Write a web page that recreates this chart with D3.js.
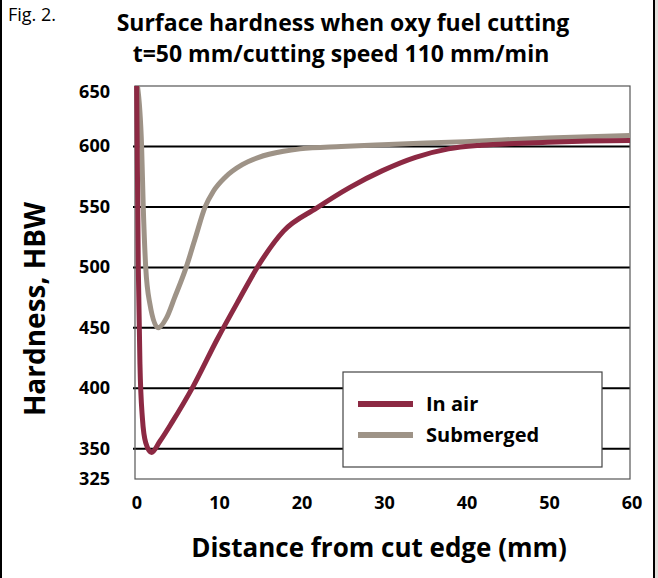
<!DOCTYPE html>
<html>
<head>
<meta charset="utf-8">
<script src="https://cdn.jsdelivr.net/npm/d3@7"></script>
<style>
  html, body { margin: 0; padding: 0; background: #fff; }
  svg { display: block; font-family: "Open Sans", "Noto Sans", sans-serif; }
</style>
</head>
<body>
<div id="chart"></div>
<script>
// Data
const airX = [0.2, 0.4, 0.6, 0.9, 1.3, 2.0, 3, 4.5, 7, 10, 12.5, 15, 18, 22, 26, 30, 34, 38, 42, 46, 50, 55, 60];
const airY = [650, 500, 420, 375, 355, 347, 356, 372, 401, 441, 472, 502, 530, 549, 566, 580, 591, 598, 601, 602.5, 603.5, 604.5, 605];
const subX = [0.3, 0.8, 1.0, 1.3, 1.8, 2.8, 3.8, 4.8, 6.2, 7.3, 8.5, 9.5, 11, 13, 15, 18, 20, 25, 30, 40, 50, 60];
const subY = [650, 600, 550, 500, 470, 450, 458, 475, 500, 524, 550, 563, 575, 585, 591, 596, 598, 600, 601.5, 604, 607, 609];
const xTicks = [0, 10, 20, 30, 40, 50, 60];
const yTicks = [325, 350, 400, 450, 500, 550, 600, 650];
const seriesNames = ["In air", "Submerged"];
const seriesColors = ["#8c2943", "#9e9387"];

const width = 658, height = 578;
const plotLeft = 135, plotRight = 630, plotTop = 86, plotBottom = 479;

const svg = d3.select("#chart").append("svg")
    .attr("width", width)
    .attr("height", height);

// frame on the left and right
svg.append("rect").attr("x", 0).attr("y", 0).attr("width", 2).attr("height", height).attr("fill", "#000");
svg.append("rect").attr("x", 653).attr("y", 0).attr("width", 2).attr("height", height).attr("fill", "#000");
svg.append("rect").attr("x", 655).attr("y", 0).attr("width", 3).attr("height", height).attr("fill", "#e2dfdb");

const x = d3.scaleLinear().domain([0, 60]).range([plotLeft, plotRight]);
const y = d3.scaleLinear().domain([325, 650]).range([plotBottom, plotTop]);

// titles
svg.append("text").attr("x", 8).attr("y", 21)
    .attr("font-size", 18).text("Fig. 2.");
svg.append("text").attr("x", 343).attr("y", 31)
    .attr("text-anchor", "middle").attr("font-size", 23).attr("font-weight", "bold")
    .text("Surface hardness when oxy fuel cutting");
svg.append("text").attr("x", 341).attr("y", 62)
    .attr("text-anchor", "middle").attr("font-size", 23).attr("font-weight", "bold")
    .text("t=50 mm/cutting speed 110 mm/min");

// gridlines (not at the border values)
svg.selectAll("line.grid")
    .data(yTicks.filter(d => d !== 325 && d !== 650))
    .enter().append("line")
    .attr("class", "grid")
    .attr("x1", plotLeft - 2).attr("x2", plotRight)
    .attr("y1", d => y(d)).attr("y2", d => y(d))
    .attr("stroke", "#000").attr("stroke-width", 2);

// plot border
svg.append("rect")
    .attr("x", plotLeft).attr("y", plotTop)
    .attr("width", plotRight - plotLeft).attr("height", plotBottom - plotTop)
    .attr("fill", "none").attr("stroke", "#555").attr("stroke-width", 1.2);

// y tick labels
svg.append("g").selectAll("text")
    .data(yTicks).enter().append("text")
    .attr("x", plotLeft - 25)
    .attr("y", d => y(d) + (d === 650 ? 12 : 6))
    .attr("text-anchor", "end")
    .attr("font-size", 18).attr("font-weight", "bold")
    .text(d => d);

// x tick labels
svg.append("g").selectAll("text")
    .data(xTicks).enter().append("text")
    .attr("x", d => x(d) + 2)
    .attr("y", 509)
    .attr("text-anchor", "middle")
    .attr("font-size", 18).attr("font-weight", "bold")
    .text(d => d);

// axis titles
svg.append("text")
    .attr("transform", "translate(45,309) rotate(-90)")
    .attr("text-anchor", "middle")
    .attr("font-size", 28).attr("font-weight", "bold")
    .text("Hardness, HBW");
svg.append("text")
    .attr("x", 379).attr("y", 557)
    .attr("text-anchor", "middle")
    .attr("font-size", 26).attr("font-weight", "bold")
    .text("Distance from cut edge (mm)");

// curves
const line = d3.line()
    .x(d => x(d[0]))
    .y(d => y(d[1]))
    .curve(d3.curveMonotoneX);

const series = [d3.zip(airX, airY), d3.zip(subX, subY)];
// draw submerged first, in air on top at the far left
svg.append("path").datum(series[1])
    .attr("d", line).attr("fill", "none")
    .attr("stroke", seriesColors[1]).attr("stroke-width", 5);
svg.append("path").datum(series[0])
    .attr("d", line).attr("fill", "none")
    .attr("stroke", seriesColors[0]).attr("stroke-width", 5);

// legend
const lg = svg.append("g");
lg.append("rect")
    .attr("x", 343).attr("y", 372).attr("width", 259).attr("height", 95)
    .attr("fill", "#fff").attr("stroke", "#444").attr("stroke-width", 1.2);
seriesNames.forEach((name, i) => {
  const ly = 404 + i * 31;
  lg.append("line")
      .attr("x1", 358).attr("x2", 413)
      .attr("y1", ly).attr("y2", ly)
      .attr("stroke", seriesColors[i]).attr("stroke-width", 6);
  lg.append("text")
      .attr("x", 426).attr("y", ly + 7)
      .attr("font-size", 20).attr("font-weight", "bold")
      .text(name);
});
</script>
</body>
</html>
